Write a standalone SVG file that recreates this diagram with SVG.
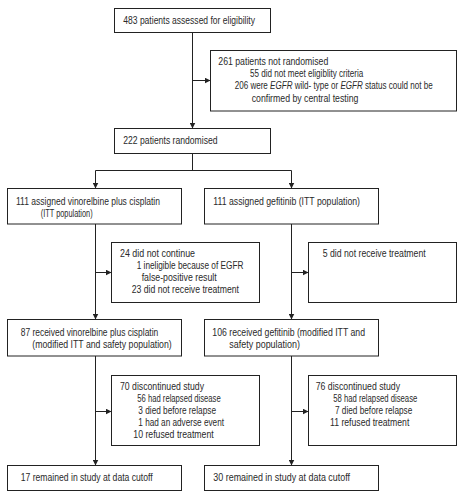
<svg xmlns="http://www.w3.org/2000/svg" width="464" height="494" viewBox="0 0 464 494">
<style>
.box{fill:#fff;stroke:#222;stroke-width:1}
.t{font-family:"Liberation Sans",Arial,sans-serif;font-size:10px;fill:#2a2a2a}
.c{fill:none;stroke:#222;stroke-width:1}
.it{font-style:italic}
</style>
<defs>
<marker id="ah" viewBox="0 0 6 6" refX="6" refY="3" markerWidth="6" markerHeight="6" markerUnits="userSpaceOnUse" orient="auto">
<path d="M0,0 L6,3 L0,6 z" fill="#222"/>
</marker>
</defs>
<rect width="464" height="494" fill="#fff"/>
<g id="connectors">
<path class="c" d="M192.5,32.5 V128.5" marker-end="url(#ah)"/>
<path class="c" d="M192.5,80.5 H210.5" marker-end="url(#ah)"/>
<path class="c" d="M192.5,153.5 V170.5 M95.5,170.5 H291.5"/>
<path class="c" d="M95.5,170.5 V188.5" marker-end="url(#ah)"/>
<path class="c" d="M291.5,170.5 V188.5" marker-end="url(#ah)"/>
<path class="c" d="M95.5,224 V319.5" marker-end="url(#ah)"/>
<path class="c" d="M95.5,272.5 H111.5" marker-end="url(#ah)"/>
<path class="c" d="M291.5,224 V319.5" marker-end="url(#ah)"/>
<path class="c" d="M291.5,272.5 H308.5" marker-end="url(#ah)"/>
<path class="c" d="M95.5,356 V465.5" marker-end="url(#ah)"/>
<path class="c" d="M95.5,411.5 H111.5" marker-end="url(#ah)"/>
<path class="c" d="M291.5,356 V465.5" marker-end="url(#ah)"/>
<path class="c" d="M291.5,411.5 H308.5" marker-end="url(#ah)"/>
</g>
<g id="assessed">
<rect class="box" x="114.5" y="8.5" width="156" height="24"/>
<text class="t" x="123.3" y="23.5" textLength="131.7" lengthAdjust="spacingAndGlyphs">483 patients assessed for eligibility</text>
</g>
<g id="not-randomised">
<rect class="box" x="210.5" y="50.5" width="246" height="60.5"/>
<text class="t" x="218.3" y="65" textLength="110" lengthAdjust="spacingAndGlyphs">261 patients not randomised</text>
<text class="t" x="250" y="77.2" textLength="113.3" lengthAdjust="spacingAndGlyphs">55 did not meet eligiblity criteria</text>
<text class="t" transform="matrix(0.806 0 0 1 234.7 89.4)">206 were <tspan class="it">EGFR</tspan> wild- type or <tspan class="it">EGFR</tspan> status could not be</text>
<text class="t" x="251.7" y="101.6" textLength="106.7" lengthAdjust="spacingAndGlyphs">confirmed by central testing</text>
</g>
<g id="randomised">
<rect class="box" x="114.5" y="128.5" width="156" height="25"/>
<text class="t" x="123.3" y="143.5" textLength="94.3" lengthAdjust="spacingAndGlyphs">222 patients randomised</text>
</g>
<g id="assigned-vc">
<rect class="box" x="7.5" y="188.5" width="174" height="35.5"/>
<text class="t" x="16" y="205" textLength="144" lengthAdjust="spacingAndGlyphs">111 assigned vinorelbine plus cisplatin</text>
<text class="t" x="40.7" y="216.5" textLength="52" lengthAdjust="spacingAndGlyphs">(ITT population)</text>
</g>
<g id="assigned-g">
<rect class="box" x="204.5" y="188.5" width="174" height="35.5"/>
<text class="t" x="213.3" y="205" textLength="146.7" lengthAdjust="spacingAndGlyphs">111 assigned gefitinib (ITT population)</text>
</g>
<g id="not-continue">
<rect class="box" x="111.5" y="242.5" width="148" height="60"/>
<text class="t" x="120" y="256.6" textLength="75" lengthAdjust="spacingAndGlyphs">24 did not continue</text>
<text class="t" x="136.7" y="268.8" textLength="106.7" lengthAdjust="spacingAndGlyphs">1 ineligible because of EGFR</text>
<text class="t" x="141.7" y="281" textLength="75" lengthAdjust="spacingAndGlyphs">false-positive result</text>
<text class="t" x="131.7" y="293.2" textLength="107.3" lengthAdjust="spacingAndGlyphs">23 did not receive treatment</text>
</g>
<g id="no-treatment-g">
<rect class="box" x="308.5" y="242.5" width="148" height="60"/>
<text class="t" x="322.7" y="256.6" textLength="103" lengthAdjust="spacingAndGlyphs">5 did not receive treatment</text>
</g>
<g id="received-vc">
<rect class="box" x="7.5" y="319.5" width="174" height="36.5"/>
<text class="t" x="20.7" y="336.3" textLength="137.6" lengthAdjust="spacingAndGlyphs">87 received vinorelbine plus cisplatin</text>
<text class="t" x="32.3" y="347.8" textLength="139.4" lengthAdjust="spacingAndGlyphs">(modified ITT and safety population)</text>
</g>
<g id="received-g">
<rect class="box" x="204.5" y="319.5" width="174" height="36.5"/>
<text class="t" x="212.3" y="336.3" textLength="152.7" lengthAdjust="spacingAndGlyphs">106 received gefitinib (modified ITT and</text>
<text class="t" x="229.3" y="347.8" textLength="70.7" lengthAdjust="spacingAndGlyphs">safety population)</text>
</g>
<g id="discontinued-vc">
<rect class="box" x="111.5" y="375.5" width="148" height="70"/>
<text class="t" x="120" y="390" textLength="84" lengthAdjust="spacingAndGlyphs">70 discontinued study</text>
<text class="t" x="137.3" y="402.1" textLength="83.4" lengthAdjust="spacingAndGlyphs">56 had relapsed disease</text>
<text class="t" x="138.3" y="414.2" textLength="77.7" lengthAdjust="spacingAndGlyphs">3 died before relapse</text>
<text class="t" x="138.3" y="426.2" textLength="85.7" lengthAdjust="spacingAndGlyphs">1 had an adverse event</text>
<text class="t" x="133.3" y="438.3" textLength="80.4" lengthAdjust="spacingAndGlyphs">10 refused treatment</text>
</g>
<g id="discontinued-g">
<rect class="box" x="308.5" y="375.5" width="148" height="70"/>
<text class="t" x="315.7" y="390" textLength="84.3" lengthAdjust="spacingAndGlyphs">76 discontinued study</text>
<text class="t" x="333.3" y="402.1" textLength="84" lengthAdjust="spacingAndGlyphs">58 had relapsed disease</text>
<text class="t" x="335" y="414.2" textLength="77.3" lengthAdjust="spacingAndGlyphs">7 died before relapse</text>
<text class="t" x="330" y="426.2" textLength="79.3" lengthAdjust="spacingAndGlyphs">11 refused treatment</text>
</g>
<g id="remained-vc">
<rect class="box" x="7.5" y="465.5" width="174" height="25"/>
<text class="t" x="20.7" y="480.6" textLength="132" lengthAdjust="spacingAndGlyphs">17 remained in study at data cutoff</text>
</g>
<g id="remained-g">
<rect class="box" x="204.5" y="465.5" width="174" height="25"/>
<text class="t" x="213.3" y="480.6" textLength="136.7" lengthAdjust="spacingAndGlyphs">30 remained in study at data cutoff</text>
</g>
</svg>
